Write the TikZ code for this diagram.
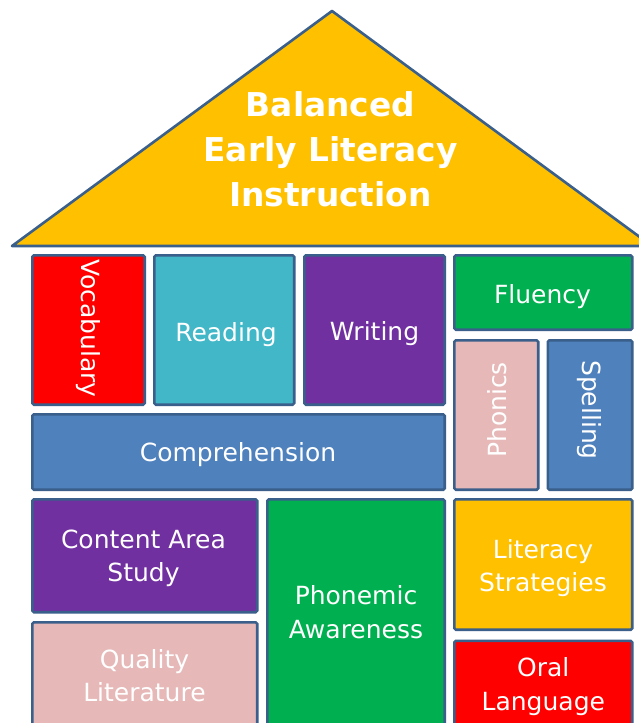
\documentclass[tikz,border=0pt]{standalone}
\usepackage{fontspec}
\setmainfont{DejaVu Sans}
\definecolor{roof}{HTML}{FFC000}
\definecolor{edge}{HTML}{3A5F8B}
\definecolor{cred}{HTML}{FF0000}
\definecolor{cteal}{HTML}{41B7C8}
\definecolor{cpurple}{HTML}{7030A0}
\definecolor{cgreen}{HTML}{00B050}
\definecolor{cpink}{HTML}{E6B9B8}
\definecolor{cblue}{HTML}{4F81BD}
\tikzset{
  room/.style={draw=edge, line width=2.6pt, rounded corners=1.5pt, inner sep=0pt},
  lbl/.style={text=white, font=\fontsize{25}{33.5}\selectfont, align=center, inner sep=0pt},
  ttl/.style={text=white, font=\bfseries\fontsize{32.8}{45.3}\selectfont, align=center, inner sep=0pt},
}
\newcommand\roombox[6]{%
  \node[room, fill=#2, minimum width={#5-#3-2.6}, minimum height={#6-#4-2.6}] (#1) at ({(#3+#5)/2},{(#4+#6)/2}) {};}
\begin{document}
\begin{tikzpicture}[x=1pt,y=-1pt]
\useasboundingbox (0,0) rectangle (639,723);
\clip (0,0) rectangle (639,723);
\fill[white] (0,0) rectangle (639,723);
% roof
\draw[draw=edge, line width=2.6pt, fill=roof, line join=round] (332,11) -- (12,246) -- (652,246) -- cycle;
\node[ttl, anchor=base] (title) at (330.5,206.7) {Balanced\\Early Literacy\\Instruction};
% rooms
\roombox{voc}{cred}{31}{254}{146}{406}
\roombox{read}{cteal}{153}{254}{295.5}{406}
\roombox{writ}{cpurple}{303}{254}{446}{406}
\roombox{flu}{cgreen}{453}{254}{633.5}{331}
\roombox{phon}{cpink}{453}{339}{539.5}{491}
\roombox{spel}{cblue}{546.5}{339}{633.5}{491}
\roombox{comp}{cblue}{31}{413}{446}{491}
\roombox{cont}{cpurple}{31}{498}{258.5}{613.5}
\roombox{qual}{cpink}{31}{621}{258.5}{740}
\roombox{phm}{cgreen}{266}{498}{446}{740}
\roombox{lit}{roof}{453}{498}{633.5}{631}
\roombox{oral}{cred}{453}{639.5}{633.5}{740}
% labels
\node[lbl, rotate=-90] (tvoc) at (88.5,328.3) {Vocabulary};
\node[lbl, anchor=base] (tread) at (226,341) {Reading};
\node[lbl, anchor=base] (twrit) at (374.5,340) {Writing};
\node[lbl, anchor=base] (tflu) at (542.5,303.3) {Fluency};
\node[lbl, rotate=90] (tphon) at (497,410) {Phonics};
\node[lbl, rotate=-90] (tspel) at (589,410) {Spelling};
\node[lbl, anchor=base] (tcomp) at (238,461.7) {Comprehension};
\node[lbl, anchor=base] (tcont) at (143.5,581.7) {Content Area\\Study};
\node[lbl, anchor=base] (tqual) at (144.5,701.7) {Quality\\Literature};
\node[lbl, anchor=base] (tphm) at (356,638) {Phonemic\\Awareness};
\node[lbl, anchor=base] (tlit) at (543,591.7) {Literacy\\Strategies};
\node[lbl, anchor=base] (toral) at (543.3,710) {Oral\\Language};
\end{tikzpicture}
\end{document}
